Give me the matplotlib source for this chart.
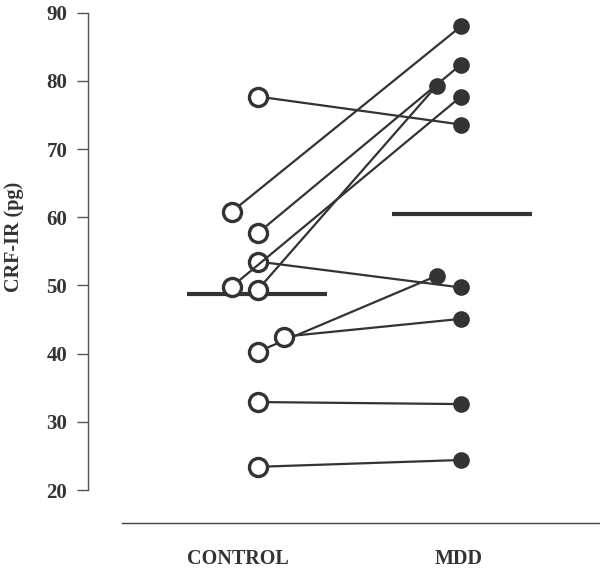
import matplotlib
matplotlib.use("Agg")
import matplotlib.pyplot as plt
import numpy as np

# Data (CRF-IR, pg), one entry per subject (drawing order matters for overlaps)
control_vals = [77.7, 60.8, 57.7, 53.5, 49.8, 49.4, 40.3, 42.5, 32.9, 23.4]
mdd_vals     = [73.6, 88.0, 82.4, 49.7, 77.7, 79.3, 51.4, 45.1, 32.6, 24.4]
control_x    = [1.0, 0.87, 1.0, 1.0, 0.87, 1.0, 1.0, 1.13, 1.0, 1.0]
mdd_x        = [2.0, 2.0, 2.0, 2.0, 2.0, 1.88, 1.88, 2.0, 2.0, 2.0]
categories   = ["CONTROL", "MDD"]
yticks       = [20, 30, 40, 50, 60, 70, 80, 90]

color = "#333333"
serif = ["Liberation Serif", "DejaVu Serif"]
W, H = 600, 569
fig = plt.figure(figsize=(W / 100, H / 100), dpi=100)
left, right, top, bottom = 88, 600, 12.7, 523
ax = fig.add_axes([left / W, 1 - bottom / H, (right - left) / W, (bottom - top) / H])

ppu_x = 203.0
ax.set_xlim(1 - (258 - left) / ppu_x, 2 + (right - 461) / ppu_x)
ppu_y = (490 - 12.7) / 70.0
ax.set_ylim(20 - (bottom - 490) / ppu_y, 90)

# mean lines (behind markers)
cm = np.mean(control_vals)
mm = np.mean(mdd_vals)
ax.plot([0.65, 1.34], [cm, cm], color=color, lw=3, zorder=1.5, solid_capstyle="butt")
ax.plot([1.66, 2.35], [mm, mm], color=color, lw=3, zorder=1.5, solid_capstyle="butt")

for i, (cx, cy, mx, my) in enumerate(zip(control_x, control_vals, mdd_x, mdd_vals)):
    z = 2 + 2 * i
    ax.plot([cx, mx], [cy, my], color=color, lw=1.6, zorder=z, solid_capstyle="butt")
    ax.plot([mx], [my], "o", ms=12, mfc=color, mec=color, mew=0, zorder=z + 1)
    ax.plot([cx], [cy], "o", ms=13, mfc="white", mec=color, mew=2.4, zorder=z + 1)

for s in ["top", "right"]:
    ax.spines[s].set_visible(False)
ax.spines["left"].set_bounds(20, 90)
ax.spines["left"].set_color("#555555")
ax.spines["left"].set_linewidth(1.0)
ax.spines["bottom"].set_bounds(1 - (258 - 122) / ppu_x, ax.get_xlim()[1])
ax.spines["bottom"].set_color("#444444")
ax.spines["bottom"].set_linewidth(1.0)

ax.set_yticks(yticks)
ax.set_yticklabels([str(t) for t in yticks], fontfamily=serif,
                   fontweight="bold", fontsize=15, color=color)
ax.tick_params(axis="y", length=8, width=1.0, color="#555555", pad=7)

# category labels
label_x_px = [238, 459]
ax.set_xticks([1 + (label_x_px[0] - 258) / ppu_x, 2 + (label_x_px[1] - 461) / ppu_x])
ax.set_xticklabels(categories, fontfamily=serif, fontweight="bold",
                   fontsize=14.5, color=color)
ax.tick_params(axis="x", length=0, pad=19)

fig.text(14 / W, 1 - 237 / H, "CRF-IR (pg)", rotation=90, ha="center", va="center",
         fontfamily=serif, fontweight="bold", fontsize=14.5, color=color)

fig.savefig("out.png", dpi=100)
